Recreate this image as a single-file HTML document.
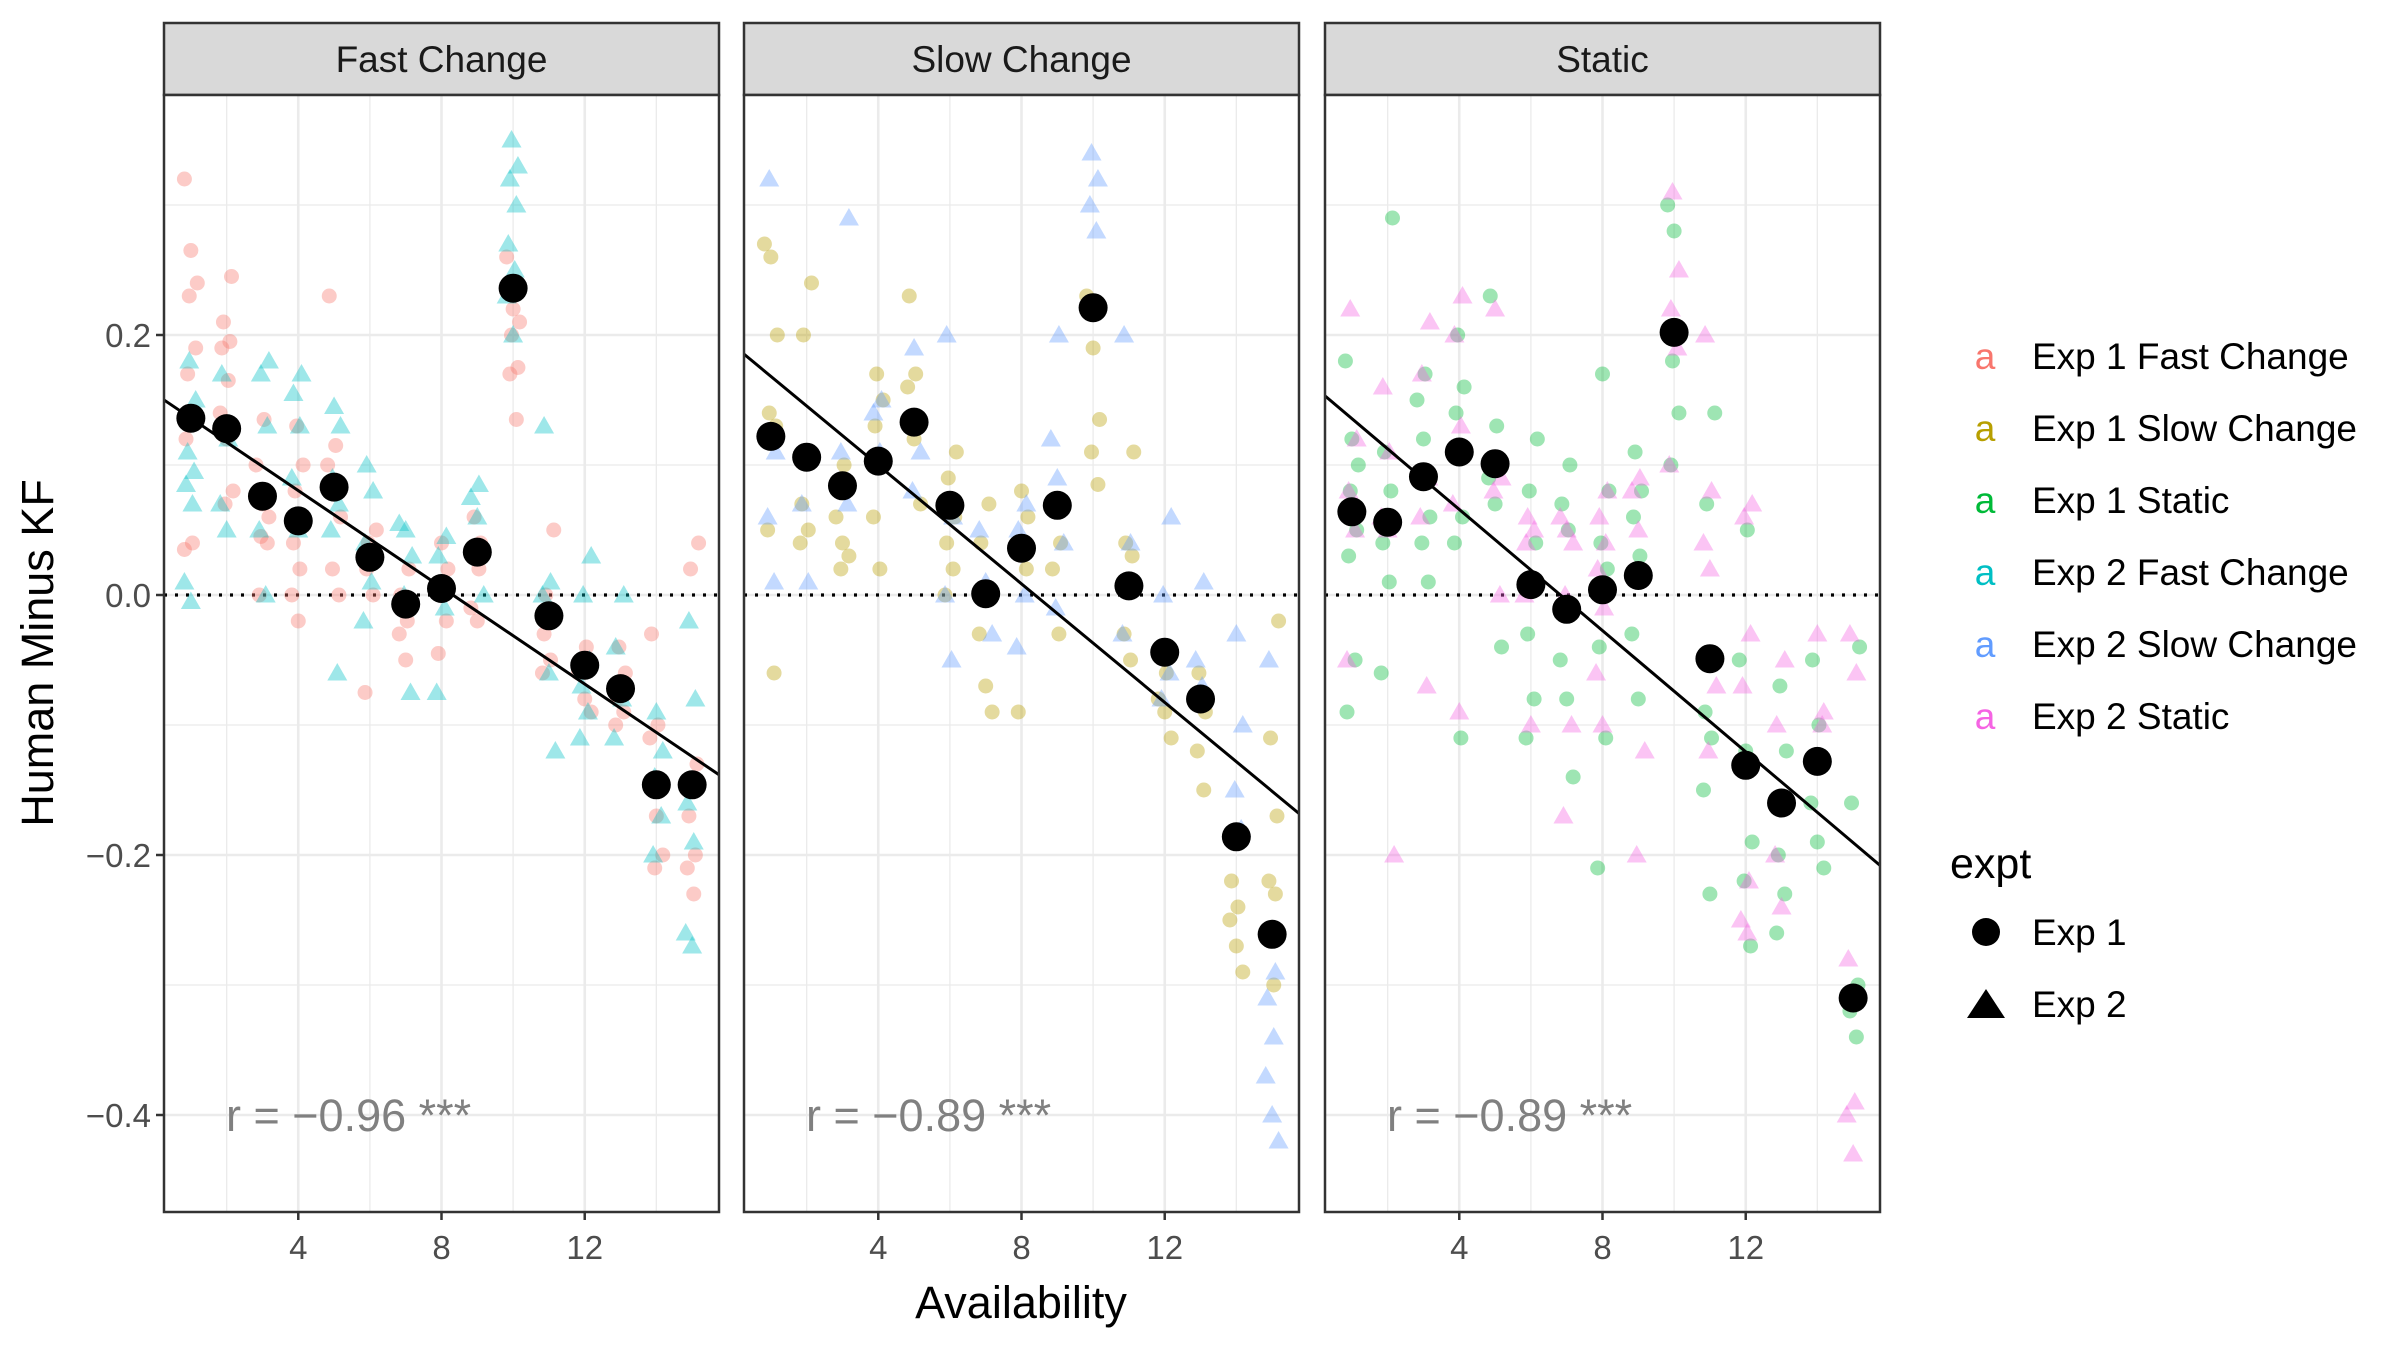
<!DOCTYPE html>
<html><head><meta charset="utf-8"><style>
html,body{margin:0;padding:0;background:#fff;}
svg{display:block;font-family:"Liberation Sans",sans-serif;}
</style></head><body>
<svg id="chart" width="2400" height="1350" viewBox="0 0 2400 1350" xmlns="http://www.w3.org/2000/svg">
<rect x="0" y="0" width="2400" height="1350" fill="#fff"/>
<g id="panels"></g>
<text x="0" y="0" transform="translate(53,653) rotate(-90)" text-anchor="middle" font-size="45" fill="#000">Human Minus KF</text>
<text x="1021" y="1318" text-anchor="middle" font-size="45" fill="#000">Availability</text>
<g font-size="37">
<text x="1985" y="369" fill="#F8766D" text-anchor="middle">a</text><text x="2032" y="369">Exp 1 Fast Change</text>
<text x="1985" y="441" fill="#B79F00" text-anchor="middle">a</text><text x="2032" y="441">Exp 1 Slow Change</text>
<text x="1985" y="513" fill="#00BA38" text-anchor="middle">a</text><text x="2032" y="513">Exp 1 Static</text>
<text x="1985" y="585" fill="#00BFC4" text-anchor="middle">a</text><text x="2032" y="585">Exp 2 Fast Change</text>
<text x="1985" y="657" fill="#619CFF" text-anchor="middle">a</text><text x="2032" y="657">Exp 2 Slow Change</text>
<text x="1985" y="729" fill="#F564E3" text-anchor="middle">a</text><text x="2032" y="729">Exp 2 Static</text>
<text x="1950" y="878" font-size="43">expt</text>
<circle cx="1986" cy="932" r="14" fill="#000"/><text x="2032" y="945">Exp 1</text>
<polygon points="1986,989 2005,1018 1967,1018" fill="#000"/><text x="2032" y="1017">Exp 2</text>
</g>
</svg>
<script>
const panelNames = ["Fast Change","Slow Change","Static"];
const exp1Colors = ["#F8766D","#B79F00","#00BA38"];
const exp2Colors = ["#00BFC4","#619CFF","#F564E3"];
const yTicks = [0.2, 0.0, -0.2, -0.4];
const yTickLabels = ["0.2","0.0","\u22120.2","\u22120.4"];
const xTicks = [4, 8, 12];
const xTickLabels = ["4","8","12"];
const rLabels = ["r = \u22120.96 ***","r = \u22120.89 ***","r = \u22120.89 ***"];
const fitIntercepts = [0.1547, 0.191, 0.159];
const fitSlopes = [-0.0186, -0.0228, -0.0233];
const meanFast = [0.136,0.128,0.076,0.057,0.083,0.029,-0.007,0.005,0.033,0.236,-0.016,-0.054,-0.072,-0.146,-0.146];
const meanSlow = [0.122,0.106,0.084,0.103,0.133,0.069,0.001,0.036,0.069,0.221,0.007,-0.044,-0.080,-0.186,-0.261];
const meanStatic = [0.064,0.056,0.091,0.110,0.101,0.008,-0.011,0.004,0.015,0.202,-0.049,-0.131,-0.160,-0.128,-0.310];
const exp1Fast = [[0.32,0.265,0.24,0.23,0.19,0.17,0.14,0.12,0.04,0.035],[0.245,0.21,0.195,0.19,0.165,0.14,0.12,0.08,0.07],[0.135,0.10,0.07,0.06,0.045,0.04,0.0],[0.13,0.10,0.08,0.06,0.04,0.02,0.0,-0.02],[0.23,0.115,0.10,0.08,0.06,0.02,0.0],[0.05,0.04,0.03,0.02,0.0,-0.075],[0.02,0.0,-0.02,-0.03,-0.05],[0.04,0.02,0.0,-0.02,-0.045],[0.06,0.04,0.03,0.02,-0.01,-0.02],[0.26,0.22,0.21,0.20,0.175,0.17,0.135],[0.05,0.0,-0.02,-0.03,-0.05,-0.06],[-0.04,-0.06,-0.08,-0.09],[-0.04,-0.06,-0.08,-0.09,-0.1],[-0.03,-0.1,-0.11,-0.17,-0.2,-0.21],[0.04,0.02,-0.13,-0.17,-0.2,-0.21,-0.23]];
const exp2Fast = [[0.18,0.15,0.11,0.095,0.085,0.07,0.01,-0.005],[0.17,0.12,0.07,0.05],[0.18,0.17,0.13,0.05,0.0],[0.17,0.155,0.13,0.09,0.05],[0.145,0.13,0.09,0.07,0.05,-0.06],[0.10,0.08,0.04,0.01,-0.02],[0.055,0.05,0.03,0.0,-0.075],[0.045,0.03,-0.01,-0.075],[0.085,0.075,0.06,0.0],[0.35,0.33,0.32,0.3,0.27,0.25,0.23,0.2],[0.13,0.01,0.0,-0.06,-0.12],[0.03,0.0,-0.05,-0.07,-0.09,-0.11],[0.0,-0.04,-0.08,-0.11],[-0.09,-0.12,-0.14,-0.17,-0.2],[-0.02,-0.08,-0.16,-0.19,-0.26,-0.27]];
const exp1Slow = [[0.27,0.26,0.2,0.14,0.13,0.05,-0.06],[0.24,0.2,0.11,0.07,0.05,0.04],[0.10,0.06,0.04,0.03,0.02],[0.17,0.15,0.13,0.10,0.06,0.02],[0.23,0.17,0.16,0.12,0.07],[0.11,0.09,0.06,0.04,0.02,0.0],[0.07,0.04,0.0,-0.03,-0.07,-0.09],[0.08,0.06,0.04,0.02,-0.09],[0.07,0.04,0.02,-0.03],[0.23,0.19,0.135,0.11,0.085],[0.11,0.04,0.03,-0.03,-0.05],[-0.06,-0.08,-0.09,-0.11],[-0.06,-0.09,-0.12,-0.15],[-0.22,-0.24,-0.25,-0.27,-0.29],[-0.02,-0.11,-0.17,-0.22,-0.23,-0.26,-0.3]];
const exp2Slow = [[0.32,0.11,0.06,0.01],[0.07,0.01],[0.29,0.11,0.07],[0.15,0.14,0.11],[0.19,0.11,0.08],[0.2,0.06,0.0,-0.05],[0.05,0.01,-0.03],[0.07,0.05,0.0,-0.04],[0.2,0.12,0.09,0.04,-0.01],[0.34,0.32,0.3,0.28],[0.2,0.04,-0.03],[0.06,0.0,-0.06,-0.08],[0.01,-0.05,-0.07],[-0.03,-0.1,-0.15,-0.18],[-0.05,-0.29,-0.31,-0.34,-0.37,-0.4,-0.42]];
const exp1Static = [[0.18,0.12,0.1,0.08,0.05,0.03,-0.05,-0.09],[0.29,0.11,0.08,0.04,0.01,-0.06],[0.17,0.15,0.12,0.06,0.04,0.01],[0.2,0.16,0.14,0.06,0.04,-0.11],[0.23,0.13,0.09,0.07,-0.04],[0.12,0.08,0.04,-0.03,-0.08,-0.11],[0.1,0.07,0.05,-0.05,-0.08,-0.14],[0.17,0.08,0.04,0.02,-0.04,-0.11,-0.21],[0.11,0.08,0.06,0.03,-0.03,-0.08],[0.3,0.28,0.2,0.18,0.14,0.1],[0.14,0.07,-0.05,-0.09,-0.11,-0.15,-0.23],[0.05,-0.05,-0.12,-0.19,-0.22,-0.27],[-0.07,-0.12,-0.2,-0.23,-0.26],[-0.05,-0.1,-0.16,-0.19,-0.21],[-0.04,-0.16,-0.3,-0.32,-0.34]];
const exp2Static = [[0.22,0.12,0.08,0.05,-0.05],[0.16,0.11,0.06,0.05,-0.2],[0.21,0.17,0.09,0.06,-0.07],[0.23,0.2,0.13,0.07,-0.09],[0.22,0.09,0.08,0.0],[0.06,0.05,0.04,0.01,0.0,-0.1],[0.06,0.05,0.04,0.0,-0.1,-0.17],[0.08,0.06,0.04,0.02,-0.01,-0.06,-0.1],[0.09,0.08,0.05,-0.12,-0.2],[0.31,0.25,0.22,0.19,0.1],[0.2,0.08,0.04,0.02,-0.07,-0.12],[0.07,0.06,-0.03,-0.07,-0.22,-0.25,-0.26],[-0.05,-0.1,-0.16,-0.2,-0.24],[-0.03,-0.09,-0.13,-0.1],[-0.03,-0.06,-0.28,-0.39,-0.4,-0.43]];

const means = [meanFast, meanSlow, meanStatic];
const exp1 = [exp1Fast, exp1Slow, exp1Static];
const exp2 = [exp2Fast, exp2Slow, exp2Static];

const NS = "http://www.w3.org/2000/svg";
const panelLefts = [164, 744, 1325];
const PW = 555, TOP = 95, BOT = 1212, STRIP_TOP = 23;
const XMIN = 0.25, XMAX = 15.75;
const Y0PX = 595, YUNIT = 1300;
function yScale(v){ return Y0PX - v * YUNIT; }
function xScale(p, v){ return panelLefts[p] + (v - XMIN) / (XMAX - XMIN) * PW; }
function mk(tag, attrs, parent){ const e = document.createElementNS(NS, tag); for (const k in attrs) e.setAttribute(k, attrs[k]); parent.appendChild(e); return e; }
function jit(i, k){ return (((i * 7 + k * 13) % 9) - 4) * 0.045; }

const root = document.getElementById('panels');
for (let p = 0; p < 3; p++) {
  const L = panelLefts[p], R = L + PW;
  const g = mk('g', {}, root);
  
  
  const strip = mk('rect', {x:L, y:STRIP_TOP, width:PW, height:TOP-STRIP_TOP, fill:'#D9D9D9', stroke:'#333', 'stroke-width':2.5}, g);
  
  
  const st = mk('text', {x:(L+R)/2, y:72, 'text-anchor':'middle', 'font-size':37, fill:'#1A1A1A'}, g);
  st.textContent = panelNames[p];
  
  
  mk('rect', {x:L, y:TOP, width:PW, height:BOT-TOP, fill:'#fff'}, g);
  [-0.5,-0.3,-0.1,0.1,0.3,0.5].forEach(v => { const yy = yScale(v); if (yy > TOP && yy < BOT) mk('line', {x1:L, x2:R, y1:yy, y2:yy, stroke:'#EBEBEB', 'stroke-width':1.3}, g); });
  [2,6,10,14].forEach(v => { const xx = xScale(p, v); mk('line', {x1:xx, x2:xx, y1:TOP, y2:BOT, stroke:'#EBEBEB', 'stroke-width':1.3}, g); });
  yTicks.forEach(v => { const yy = yScale(v); const gl = mk('line', {x1:L, x2:R, y1:yy, y2:yy, stroke:'#EBEBEB', 'stroke-width':2.6}, g);   });
  xTicks.forEach(v => { const xx = xScale(p, v); const gl = mk('line', {x1:xx, x2:xx, y1:TOP, y2:BOT, stroke:'#EBEBEB', 'stroke-width':2.6}, g);   });
  const zl = mk('line', {x1:L, x2:R, y1:yScale(0), y2:yScale(0), stroke:'#000', 'stroke-width':3.2, 'stroke-dasharray':'3,8'}, g);
  
  
  exp1[p].forEach((vals, i) => vals.forEach((v, k) => {
    const c = mk('circle', {cx:xScale(p, i+1+jit(i,k)), cy:yScale(v), r:7.5, fill:exp1Colors[p], 'fill-opacity':0.38}, g);
    
    
  }));
  exp2[p].forEach((vals, i) => vals.forEach((v, k) => {
    const cx = xScale(p, i+1+jit(i,k+3)), cy = yScale(v);
    const t = mk('polygon', {points:`${cx},${cy-10} ${cx+10},${cy+7.5} ${cx-10},${cy+7.5}`, fill:exp2Colors[p], 'fill-opacity':0.38}, g);
    
    
  }));
  const fl = mk('line', {x1:L, y1:yScale(fitIntercepts[p] + fitSlopes[p]*XMIN), x2:R, y2:yScale(fitIntercepts[p] + fitSlopes[p]*XMAX), stroke:'#000', 'stroke-width':3}, g);
  
  
  means[p].forEach((v, i) => {
    const m = mk('circle', {cx:xScale(p, i+1), cy:yScale(v), r:14.5, fill:'#000'}, g);
    
    
  });
  const rl = mk('text', {x:L+62, y:yScale(-0.4)+16, 'font-size':45, fill:'#808080'}, g);
  rl.textContent = rLabels[p];
  
  
  const bd = mk('rect', {x:L, y:TOP, width:PW, height:BOT-TOP, fill:'none', stroke:'#333', 'stroke-width':2.5}, g);
  
  
  xTicks.forEach((v, j) => {
    const xx = xScale(p, v);
    mk('line', {x1:xx, x2:xx, y1:BOT, y2:BOT+8, stroke:'#333', 'stroke-width':2.5}, g);
    const tl = mk('text', {x:xx, y:1259, 'text-anchor':'middle', 'font-size':33, fill:'#4D4D4D'}, g);
    tl.textContent = xTickLabels[j];
    
    
  });
  if (p === 0) {
    yTicks.forEach((v, j) => {
      const yy = yScale(v);
      mk('line', {x1:L-8, x2:L, y1:yy, y2:yy, stroke:'#333', 'stroke-width':2.5}, g);
      const tl = mk('text', {x:L-13, y:yy+12, 'text-anchor':'end', 'font-size':33, fill:'#4D4D4D'}, g);
      tl.textContent = yTickLabels[j];
      
      
    });
  }
}
</script>
</body></html>
